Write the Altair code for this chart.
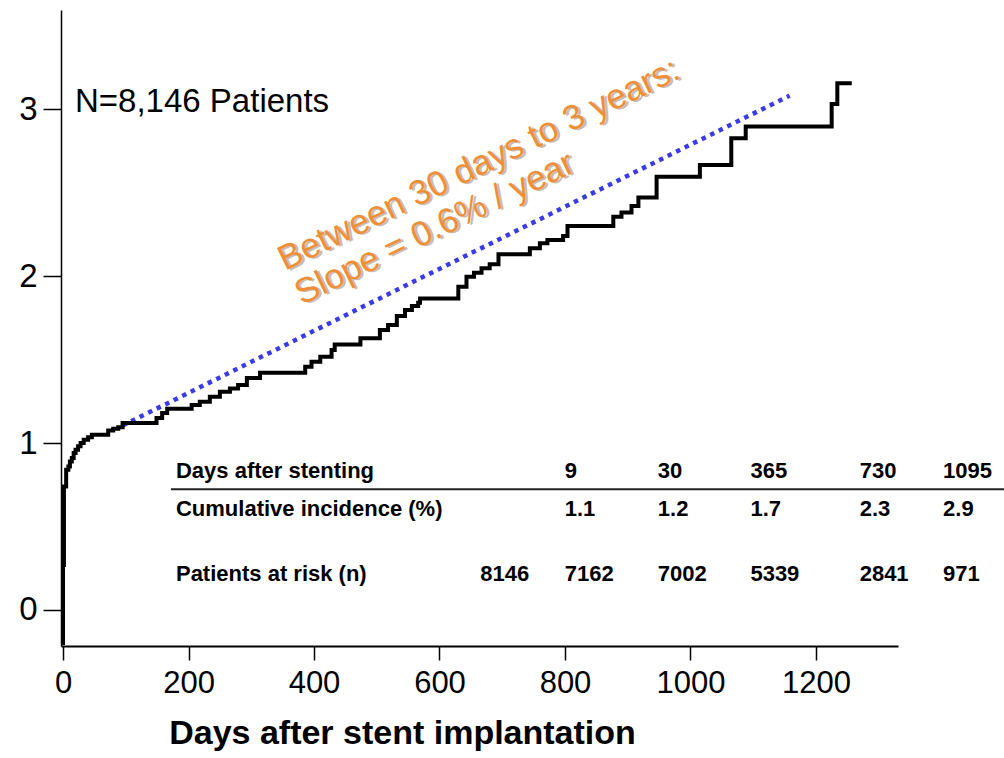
import altair as alt
import pandas as pd

# Cumulative incidence (%) after stent implantation, step points (day, value)
days = [0, 0, 1.5, 5, 8.5, 11, 14, 17, 20, 24,
        28, 33, 40, 46, 72, 80, 88, 95, 149, 158,
        166, 205, 218, 234, 250, 266, 279, 293, 314, 386,
        396, 410, 428, 433, 474, 505, 518, 532, 545, 556,
        566, 569, 630, 643, 655, 667, 680, 694, 744, 760,
        772, 797, 804, 877, 890, 906, 917, 946, 1015, 1065,
        1088, 1225, 1234, 1257]
incidence = [-0.21, 0.27, 0.74, 0.84, 0.86, 0.89, 0.91, 0.94, 0.96, 0.98,
             1.00, 1.02, 1.035, 1.05, 1.075, 1.085, 1.095, 1.12, 1.15, 1.18,
             1.205, 1.228, 1.247, 1.277, 1.307, 1.327, 1.347, 1.39, 1.42, 1.457,
             1.487, 1.517, 1.557, 1.59, 1.627, 1.677, 1.707, 1.76, 1.796, 1.82,
             1.84, 1.866, 1.936, 1.996, 2.02, 2.046, 2.07, 2.13, 2.166, 2.196,
             2.216, 2.24, 2.30, 2.355, 2.38, 2.42, 2.47, 2.595, 2.665, 2.825,
             2.895, 3.03, 3.154, 3.154]

# Linear trend between 30 days and 3 years
slope_days = [95, 1158]
slope_values = [1.105, 3.08]

# Summary table
row_labels = ["Days after stenting", "Cumulative incidence (%)", "Patients at risk (n)"]
table_days = ["9", "30", "365", "730", "1095"]
table_incidence = ["1.1", "1.2", "1.7", "2.3", "2.9"]
table_at_risk = ["8146", "7162", "7002", "5339", "2841", "971"]

x_ticks = [0, 200, 400, 600, 800, 1000, 1200]
y_ticks = [0, 1, 2, 3]

# ---- layout (in data units of the shared scales) ----
X_DOMAIN = [-3.2, 1330.7]
Y_DOMAIN = [-0.2156, 3.593]
LABEL_COL = 180
START_COL = 665
VALUE_COLS = [799.5, 948, 1095.5, 1269.6, 1402.5]
ROW_Y = [0.792, 0.563, 0.175]
RULE_Y = 0.7228
RULE_X = [172, 1500]
FONT = "Liberation Sans, Arial, sans-serif"

curve = pd.DataFrame({"x": days, "y": incidence, "i": range(len(days))})
slope = pd.DataFrame({"x": slope_days, "y": slope_values})

cells = []
for r, lab in enumerate(row_labels):
    cells.append({"x": LABEL_COL, "y": ROW_Y[r], "t": lab})
for c, v in enumerate(table_days):
    cells.append({"x": VALUE_COLS[c], "y": ROW_Y[0], "t": v})
for c, v in enumerate(table_incidence):
    cells.append({"x": VALUE_COLS[c], "y": ROW_Y[1], "t": v})
cells.append({"x": START_COL, "y": ROW_Y[2], "t": table_at_risk[0]})
for c, v in enumerate(table_at_risk[1:]):
    cells.append({"x": VALUE_COLS[c], "y": ROW_Y[2], "t": v})
table = pd.DataFrame(cells)
rule = pd.DataFrame({"x": [RULE_X[0]], "x2": [RULE_X[1]], "y": [RULE_Y]})

X = alt.X(
    "x:Q",
    scale=alt.Scale(domain=X_DOMAIN, nice=False, zero=False),
    axis=alt.Axis(
        values=x_ticks, format="d", grid=False, labelFontSize=31, labelFont=FONT,
        labelColor="black", labelPadding=8, labelFlush=False, labelOverlap=False,
        tickSize=14, tickColor="black", tickWidth=1.5,
        domainColor="black", domainWidth=2,
        title="Days after stent implantation", titleFont=FONT, titleFontSize=34,
        titleFontWeight="bold", titleColor="black", titleX=341, titleY=97,
        titleAlign="center", titleBaseline="alphabetic",
    ),
)
Y = alt.Y(
    "y:Q",
    scale=alt.Scale(domain=Y_DOMAIN, nice=False, zero=False),
    axis=alt.Axis(
        values=y_ticks, format="d", grid=False, labelFontSize=33, labelFont=FONT,
        labelColor="black", labelPadding=6, labelFlush=False,
        tickSize=18, tickColor="black", tickWidth=1.5,
        domainColor="black", domainWidth=1.5, title=None,
    ),
)

km = alt.Chart(curve).mark_line(
    interpolate="step-after", color="black", strokeWidth=4
).encode(x=X, y=Y, order="i:Q")

trend = alt.Chart(slope).mark_line(
    color="#3a3ae6", strokeWidth=4.5, strokeDash=[4.5, 5]
).encode(x=X, y=Y)

note_pos = pd.DataFrame({"x": [353.8], "y": [2.03]})
note_text = ["Between 30 days to 3 years:", "Slope = 0.6% / year"]
note_shadow = alt.Chart(note_pos).mark_text(
    text=note_text, angle=334, align="left", baseline="alphabetic",
    fontSize=35, font=FONT, lineHeight=38, color="#7a5a3a", opacity=0.4,
    dx=2, dy=2,
).encode(x=X, y=Y)
note = alt.Chart(note_pos).mark_text(
    text=note_text, angle=334, align="left", baseline="alphabetic",
    fontSize=35, font=FONT, lineHeight=38, color="#ee8f38",
).encode(x=X, y=Y)

n_label = alt.Chart(pd.DataFrame({"x": [19.1], "y": [2.98]})).mark_text(
    text="N=8,146 Patients", align="left", baseline="alphabetic",
    fontSize=33, font=FONT, color="black",
).encode(x=X, y=Y)

table_text = alt.Chart(table).mark_text(
    align="left", baseline="alphabetic", fontSize=22, font=FONT,
    fontWeight="bold", color="black",
).encode(x=X, y=Y, text="t:N")

table_rule = alt.Chart(rule).mark_rule(color="#222222", strokeWidth=2).encode(
    x=X, x2="x2:Q", y=Y
)

chart = alt.layer(
    trend, km, note_shadow, note, n_label, table_rule, table_text
).properties(
    width=837,
    height=636,
    autosize="none",
    padding={"left": 61, "top": 10, "right": 106, "bottom": 112},
    background="white",
).configure_view(stroke=None)

chart.save("out.html", embed_options={"renderer": "svg", "actions": False})
